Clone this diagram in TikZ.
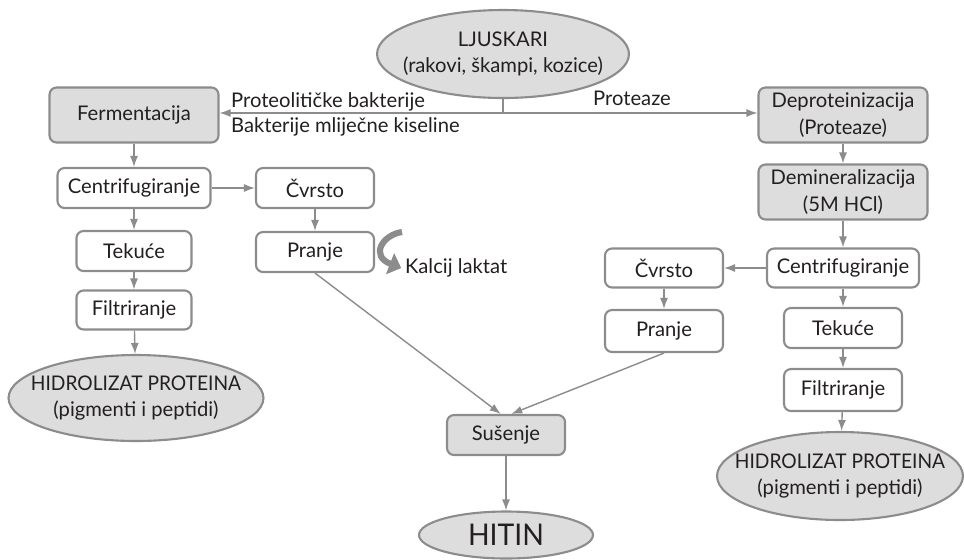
\documentclass[tikz,border=0pt]{standalone}
\usepackage{fontspec}
\setmainfont{Lato}
\newfontfamily\narrowcaps[FakeStretch=0.95]{Lato}
\usetikzlibrary{positioning,arrows.meta,shapes.geometric}
\definecolor{linegray}{RGB}{140,140,140}
\definecolor{fillgray}{RGB}{221,221,222}
\definecolor{inkgray}{RGB}{35,31,32}
\begin{document}
\begin{tikzpicture}[x=0.02cm,y=-0.02cm,
			font=\fontsize{11.5}{15}\selectfont,
			flow/.style={draw=linegray, line width=0.8pt, -{Latex[length=2.2mm,width=1.6mm]}},
			link/.style={draw=linegray, line width=0.8pt},
			procbox/.style={rectangle, rounded corners=4pt, draw=linegray, line width=1.2pt, fill=white, text=inkgray, align=center, inner sep=2pt},
			graybox/.style={procbox, fill=fillgray},
			blob/.style={ellipse, draw=linegray, line width=1.2pt, fill=fillgray, text=inkgray, align=center, inner xsep=-1.2cm, inner ysep=-0.4cm},
			note/.style={text=inkgray, inner sep=1pt}]
		\useasboundingbox (0,0) rectangle (964,559);
		\node[blob, minimum width=5.04cm, minimum height=1.76cm] (ljus) at (503,54) {LJUSKARI\\(rakovi, škampi, kozice)};
		\node[graybox, minimum width=3.38cm, minimum height=1.1cm] (ferm) at (134,115) {Fermentacija};
		\node[graybox, minimum width=3.38cm, minimum height=1.1cm] (deprot) at (843,115) {Deproteinizacija\\(Proteaze)};
		\node[graybox, minimum width=3.38cm, minimum height=1.1cm] (demin) at (843,192) {Demineralizacija\\(5M HCl)};
		\node[procbox, minimum width=3.06cm, minimum height=0.8cm] (centL) at (134,188) {Centrifugiranje};
		\node[procbox, minimum width=2.36cm, minimum height=0.8cm] (cvrstoL) at (315,188) {Čvrsto};
		\node[procbox, minimum width=2.3cm, minimum height=0.8cm] (tekuceL) at (134,251) {Tekuće};
		\node[procbox, minimum width=2.36cm, minimum height=0.8cm] (pranjeL) at (315,252) {Pranje};
		\node[procbox, minimum width=2.3cm, minimum height=0.78cm] (filtL) at (134,310) {Filtriranje};
		\node[blob, minimum width=5.1cm, minimum height=1.72cm] (hidrL) at (136,398) {{\narrowcaps HIDROLIZAT PROTEINA}\\(pigmenti i peptidi)};
		\node[procbox, minimum width=3.04cm, minimum height=0.78cm] (centR) at (843,268) {Centrifugiranje};
		\node[procbox, minimum width=2.36cm, minimum height=0.78cm] (cvrstoR) at (664,268) {Čvrsto};
		\node[procbox, minimum width=2.36cm, minimum height=0.84cm] (pranjeR) at (664,331) {Pranje};
		\node[procbox, minimum width=2.36cm, minimum height=0.8cm] (tekuceR) at (843,328) {Tekuće};
		\node[procbox, minimum width=2.36cm, minimum height=0.84cm] (filtR) at (843,390) {Filtriranje};
		\node[blob, minimum width=4.92cm, minimum height=1.76cm] (hidrR) at (840,476) {{\narrowcaps HIDROLIZAT PROTEINA}\\(pigmenti i peptidi)};
		\node[graybox, minimum width=2.36cm, minimum height=0.8cm] (susenje) at (506,435) {Sušenje};
		\node[blob, minimum width=3.48cm, minimum height=0.94cm, font=\fontsize{17}{19}\narrowcaps] (hitin) at (506,535) {HITIN};
		\node[note, anchor=west] (probak) at (229,102) {Proteolitičke bakterije};
		\node[note, anchor=west] (mlbak) at (229,127) {Bakterije mliječne kiseline};
		\node[note] (proteaze) at (632,98) {Proteaze};
		\node[note, anchor=west] (kalcij) at (403,268) {Kalcij laktat};
		\coordinate (split) at (503,113);
		\coordinate (kstart) at (402,232);
		\draw[link] (ljus.south) -- (split);
		\draw[flow] (split) -- (split -| ferm.east);
		\draw[flow] (split) -- (split -| deprot.west);
		\draw[flow] (ferm) -- (centL);
		\draw[flow] (centL) -- (cvrstoL);
		\draw[flow] (centL) -- (tekuceL);
		\draw[flow] (tekuceL) -- (filtL);
		\draw[flow] (filtL) -- (hidrL);
		\draw[flow] (cvrstoL) -- (pranjeL);
		\draw[draw=linegray, line width=3.5pt, -{Triangle[length=2.4mm,width=4.4mm]}] (kstart) .. controls (382,235) and (370,256) .. ([xshift=-1pt]kalcij.west);
		\draw[flow] (pranjeL.south) -- ([xshift=-3pt]susenje.north);
		\draw[flow] (pranjeR.south) -- ([xshift=3pt]susenje.north);
		\draw[flow] (susenje) -- (hitin);
		\draw[flow] (deprot) -- (demin);
		\draw[flow] (demin) -- (centR);
		\draw[flow] (centR) -- (cvrstoR);
		\draw[flow] (cvrstoR) -- (pranjeR);
		\draw[flow] (centR) -- (tekuceR);
		\draw[flow] (tekuceR) -- (filtR);
		\draw[flow] (filtR) -- (hidrR);
	\end{tikzpicture}
\end{document}
